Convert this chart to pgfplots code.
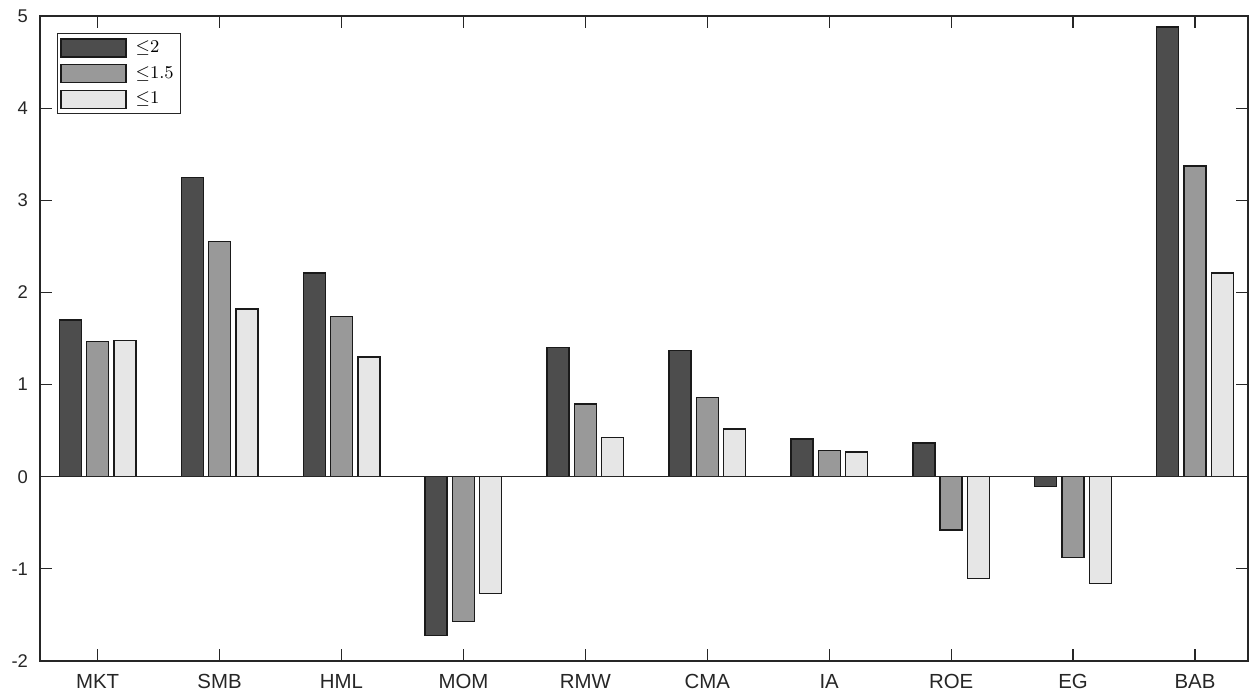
\documentclass[border=0pt]{standalone}
\usepackage{fontspec}
\setmainfont{Liberation Sans}
\usepackage{pgfplots}
\pgfplotsset{compat=1.18}
\usetikzlibrary{calc}
\definecolor{dk}{HTML}{4D4D4D}
\definecolor{md}{HTML}{999999}
\definecolor{lt}{HTML}{E6E6E6}
\definecolor{axc}{HTML}{262626}
\definecolor{edge}{HTML}{1A1A1A}
\pgfplotsset{barleg/.style={legend image code/.code={\draw[##1] (0pt,-4.5pt) rectangle (32.5pt,4.5pt);}}}
\begin{document}
\begin{tikzpicture}
\begin{axis}[
  scale only axis, width=604pt, height=322.5pt,
  xmin=0.527, xmax=10.435, ymin=-2, ymax=5,
  ybar=2.65pt, bar width=11pt,
  xtick={1,...,10},
  xticklabels={MKT,SMB,HML,MOM,RMW,CMA,IA,ROE,EG,BAB},
  ytick={-2,...,5},
  yticklabels={-2,-1,0,1,2,3,4,5},
  tick align=inside, tick pos=both, major tick length=6pt,
  axis line style={axc, line width=0.6pt},
  tick style={axc, line width=0.6pt},
  xticklabel style={font=\fontsize{10.2}{12}\selectfont, text=axc, yshift=-3pt},
  yticklabel style={font=\fontsize{9.2}{11}\selectfont, text=axc, xshift=-2.5pt},
  legend style={at={(0.0138,0.9736)}, anchor=north west, draw=axc, line width=0.6pt,
    font=\fontsize{9.5}{11}\selectfont, inner xsep=1.5pt, inner ysep=1.5pt, row sep=1.5pt,
    cells={anchor=west}},
  every axis plot/.append style={draw=edge, line width=0.7pt},
]
\addplot[fill=dk, barleg] coordinates {
  (1,1.70) (2,3.245) (3,2.21) (4,-1.72) (5,1.40) (6,1.37) (7,0.41) (8,0.365) (9,-0.105) (10,4.88)};
\addplot[fill=md, barleg] coordinates {
  (1,1.466) (2,2.55) (3,1.737) (4,-1.57) (5,0.79) (6,0.86) (7,0.285) (8,-0.58) (9,-0.875) (10,3.37)};
\addplot[fill=lt, barleg] coordinates {
  (1,1.48) (2,1.82) (3,1.30) (4,-1.27) (5,0.425) (6,0.52) (7,0.27) (8,-1.105) (9,-1.156) (10,2.21)};
\legend{\hspace{2.5pt}${\leq}2$,\hspace{2.5pt}${\leq}1.5$,\hspace{2.5pt}${\leq}1$}
\draw[axc, line width=0.6pt] ({rel axis cs:0,0} |- {axis cs:1,0}) -- ({rel axis cs:1,0} |- {axis cs:1,0});
\end{axis}
\pgfresetboundingbox
\path ($(current axis.south west)+(-20pt,-17pt)$) rectangle ($(current axis.north east)+(0.5pt,8pt)$);
\end{tikzpicture}
\end{document}
